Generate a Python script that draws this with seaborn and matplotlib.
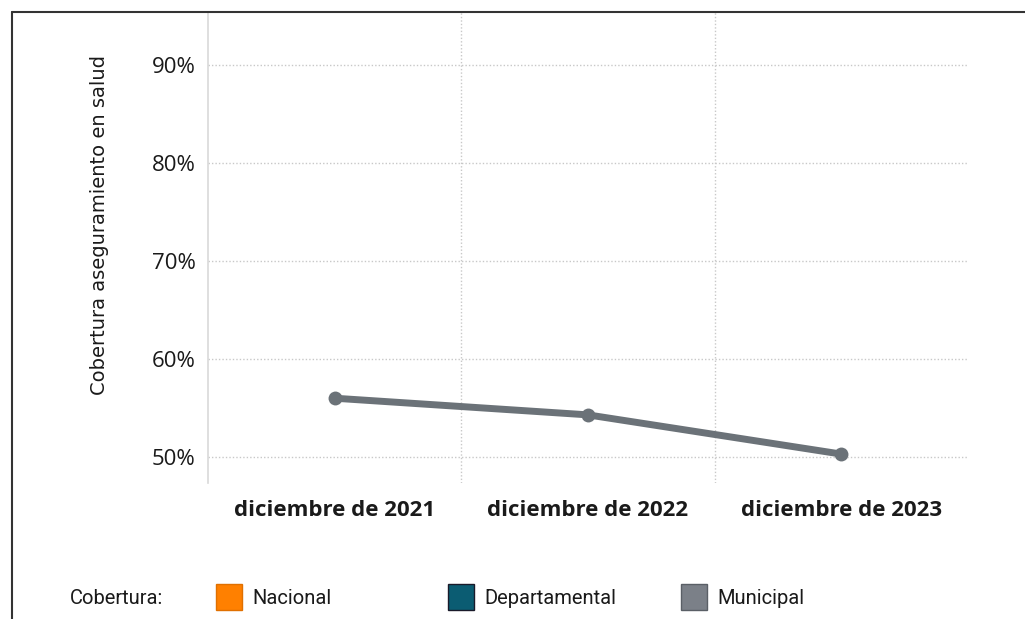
import pandas as pd
import matplotlib
matplotlib.use("Agg")
import matplotlib.pyplot as plt
import seaborn as sns
from matplotlib.patches import Rectangle
from matplotlib.lines import Line2D
from matplotlib.ticker import FuncFormatter, FixedLocator

# =====================================
# DATA
# =====================================
periods = ["diciembre de 2021", "diciembre de 2022", "diciembre de 2023"]
municipal = [56.0, 54.3, 50.3]
y_ticks = [50, 60, 70, 80, 90]
legend_labels = ["Nacional", "Departamental", "Municipal"]
legend_colors = ["#ff8000", "#0b5c72", "#7b8088"]

df = pd.DataFrame({"Periodo": periods, "Cobertura": municipal})

# =====================================
# PLOT
# =====================================
sns.set_style("white")
plt.rcParams["font.family"] = ["Open Sans", "DejaVu Sans"]

W, H = 1025, 619
fig = plt.figure(figsize=(W / 100, H / 100), dpi=100)
ax = fig.add_axes([208 / W, 1 - 483 / H, (968 - 208) / W, (483 - 12) / H])

sns.lineplot(data=df, x="Periodo", y="Cobertura", ax=ax, color="#6b7278",
             linewidth=5, marker="o", markersize=10, markeredgewidth=0,
             sort=False)

ax.set_xlim(-0.5, 2.5)
ax.set_ylim(47.35, 95.4)
ax.yaxis.set_major_locator(FixedLocator(y_ticks))
ax.yaxis.set_major_formatter(FuncFormatter(lambda v, p: f"{v:.0f}%"))
ax.xaxis.set_minor_locator(FixedLocator([0.5, 1.5]))

ax.grid(axis="y", which="major", linestyle=(0, (1, 1.5)), color="#c8c8c8", linewidth=1)
ax.grid(axis="x", which="minor", linestyle=(0, (1, 1.5)), color="#c8c8c8", linewidth=1)
ax.grid(axis="x", which="major", visible=False)

for s in ["top", "right", "bottom"]:
    ax.spines[s].set_visible(False)
ax.spines["left"].set_color("#d9d9d9")
ax.spines["left"].set_linewidth(1.2)

ax.tick_params(axis="y", length=0, pad=9, labelsize=16, labelcolor="#1a1a1a")
ax.tick_params(axis="x", which="both", length=0, pad=12, labelsize=16)
for t in ax.get_xticklabels():
    t.set_fontweight("bold")
    t.set_color("#1a1a1a")

ax.set_xlabel("")
ax.set_ylabel("")
fig.text(100 / W, 1 - 225 / H, "Cobertura aseguramiento en salud", rotation=90,
         ha="center", va="center", fontsize=14, color="#1a1a1a",
         family=["DejaVu Sans"])

# figure border (top and left)
fig.add_artist(Line2D([12 / W, 1], [1 - 12 / H, 1 - 12 / H], color="#333333", linewidth=1.5))
fig.add_artist(Line2D([12 / W, 12 / W], [0, 1 - 12 / H], color="#333333", linewidth=1.5))

# legend
ly = 1 - 598 / H
fig.text(70 / W, ly, "Cobertura:", ha="left", va="center", fontsize=14.5,
         family=["Roboto", "DejaVu Sans"], color="#1a1a1a")
patch_x = [216, 448, 681]
for px, lab, col in zip(patch_x, legend_labels, legend_colors):
    edge = "#1a1a2a" if lab == "Departamental" else "#5a5f66" if lab == "Municipal" else "#e07000"
    fig.add_artist(Rectangle((px / W, 1 - 610 / H), 26 / W, 26 / H,
                             facecolor=col, edgecolor=edge, linewidth=1,
                             transform=fig.transFigure))
    fig.text((px + 36) / W, ly, lab, ha="left", va="center", fontsize=14.5,
             family=["Roboto", "DejaVu Sans"], color="#1a1a1a")

fig.savefig("out.png", dpi=100, facecolor="white")
